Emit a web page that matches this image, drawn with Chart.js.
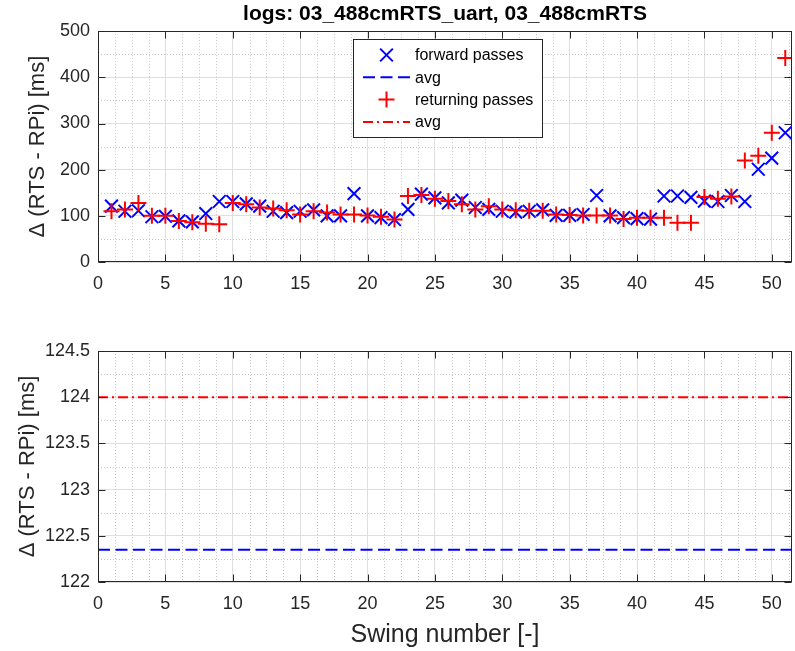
<!DOCTYPE html>
<html><head><meta charset="utf-8">
<script src="https://cdn.jsdelivr.net/npm/chart.js@4.4.1/dist/chart.umd.min.js"></script>
<style>
html,body{margin:0;padding:0;background:#fff;}
#wrap{position:relative;width:795px;height:651px;background:#fff;overflow:hidden;}
canvas{position:absolute;left:0;}
#c1{top:0;} #c2{top:300px;}
</style></head><body>
<div id="wrap"><canvas id="c1" width="795" height="300"></canvas><canvas id="c2" width="795" height="351"></canvas></div>
<script>
const titleText = 'logs: 03_488cmRTS_uart, 03_488cmRTS';
const yLabel = 'Δ (RTS - RPi) [ms]';
const xLabel = 'Swing number [-]';
const legendLabels = ['forward passes', 'avg', 'returning passes', 'avg'];

const swings = [1,2,3,4,5,6,7,8,9,10,11,12,13,14,15,16,17,18,19,20,21,22,23,24,25,26,27,28,29,30,31,32,33,34,35,36,37,38,39,40,41,42,43,44,45,46,47,48,49,50,51];
const forwardPasses = [121,110,111,98,99,89,87,105,131,131,126,121,110,107,110,113,100,100,148,100,96,92,114,147,139,128,134,118,114,110,108,110,113,101,101,103,144,100,96,94,93,143,143,140,132,131,144,131,201,225,280];
const returningPasses = [110,114,128,100,100,89,86,83,82,128,125,118,116,112,103,110,107,103,103,101,98,92,143,145,137,132,125,114,121,114,112,111,111,103,102,101,101,101,93,96,96,96,85,85,141,137,142,220,230,280,442];
const avgForward = 122.35;
const avgReturning = 124.0;

const xLimits = [0, 51.5];
const xTicks = [0,5,10,15,20,25,30,35,40,45,50];
const yLimitsTop = [0, 500];
const yTicksTop = [0,100,200,300,400,500];
const yLimitsBottom = [122, 124.5];
const yTicksBottom = [122,122.5,123,123.5,124,124.5];

const AX = '#262626';
const FONT = "'Liberation Sans', Arial, Helvetica, sans-serif";
const BLUE = '#0000ff', RED = '#ff0000';
const DASH_AVG_F = [12, 5.5];
const DASH_AVG_R = [10, 4, 2, 4];

const matlabAxes = {
  id: 'matlabAxes',
  beforeDatasetsDraw(chart, args, opts) {
    const {ctx, chartArea: a, scales: {x, y}} = chart;
    ctx.save();
    ctx.strokeStyle = '#c6c6c6'; ctx.lineWidth = 1; ctx.setLineDash([1, 2]);
    ctx.beginPath();
    for (let v = x.min; v <= x.max + 1e-9; v += opts.xMinor) {
      if (Math.abs(v / opts.xMajor - Math.round(v / opts.xMajor)) < 1e-6) continue;
      const p = Math.round(x.getPixelForValue(v)) + 0.5;
      ctx.moveTo(p, a.top); ctx.lineTo(p, a.bottom);
    }
    for (let v = y.min; v <= y.max + 1e-9; v += opts.yMinor) {
      if (Math.abs(v / opts.yMajor - Math.round(v / opts.yMajor)) < 1e-6) continue;
      const p = Math.round(y.getPixelForValue(v)) + 0.5;
      ctx.moveTo(a.left, p); ctx.lineTo(a.right, p);
    }
    ctx.stroke();
    ctx.restore();
  },
  afterDatasetsDraw(chart, args, opts) {
    const {ctx, chartArea: a, scales: {x, y}} = chart;
    ctx.save();
    ctx.strokeStyle = AX; ctx.lineWidth = 1; ctx.setLineDash([]);
    const L = Math.round(a.left) + 0.5, R = Math.round(a.right) - 0.5;
    const T = Math.round(a.top) + 0.5, B = Math.round(a.bottom) - 0.5;
    ctx.strokeRect(L, T, R - L, B - T);
    const tl = 7;
    ctx.beginPath();
    x.ticks.forEach(t => {
      const p = Math.round(x.getPixelForValue(t.value)) + 0.5;
      ctx.moveTo(p, B); ctx.lineTo(p, B - tl);
      ctx.moveTo(p, T); ctx.lineTo(p, T + tl);
    });
    y.ticks.forEach(t => {
      const p = Math.round(y.getPixelForValue(t.value)) + 0.5;
      ctx.moveTo(L, p); ctx.lineTo(L + tl, p);
      ctx.moveTo(R, p); ctx.lineTo(R - tl, p);
    });
    ctx.stroke();
    ctx.restore();
  }
};

const matlabLegend = {
  id: 'matlabLegend',
  afterDatasetsDraw(chart, args, opts) {
    if (!opts || !opts.display) return;
    const ctx = chart.ctx;
    const [bx, by, bw, bh] = opts.box;
    ctx.save();
    ctx.fillStyle = '#ffffff'; ctx.fillRect(bx, by, bw, bh);
    ctx.strokeStyle = AX; ctx.lineWidth = 1; ctx.setLineDash([]);
    ctx.strokeRect(bx + 0.5, by + 0.5, bw, bh);
    chart.data.datasets.forEach((ds, i) => {
      const cy = by + opts.rowTop + i * opts.rowGap;
      ctx.save();
      ctx.strokeStyle = ds.borderColor; ctx.fillStyle = ds.borderColor;
      if (ds.type === 'line') {
        ctx.lineWidth = ds.borderWidth; ctx.setLineDash(ds.borderDash || []);
        ctx.beginPath(); ctx.moveTo(opts.lineX0, cy); ctx.lineTo(opts.lineX1, cy); ctx.stroke();
      } else {
        ctx.lineWidth = ds.pointBorderWidth;
        Chart.helpers.drawPoint(ctx, {pointStyle: ds.pointStyle, radius: ds.pointRadius, borderWidth: ds.pointBorderWidth, rotation: 0}, (opts.lineX0 + opts.lineX1) / 2, cy);
      }
      ctx.restore();
      ctx.fillStyle = '#000'; ctx.font = '16px ' + FONT; ctx.textBaseline = 'middle'; ctx.textAlign = 'left';
      ctx.fillText(ds.label, opts.textX, cy + 1);
    });
    ctx.restore();
  }
};

function yScale(lim, ticks, titlePad) {
  return {
    type: 'linear', min: lim[0], max: lim[1],
    afterBuildTicks: s => { s.ticks = ticks.map(v => ({value: v})); },
    afterFit: s => { s.width = 98; s.paddingTop = 0; s.paddingBottom = 0; },
    grid: {color: '#dfdfdf', lineWidth: 1, drawTicks: false},
    border: {display: false},
    ticks: {color: AX, font: {family: FONT, size: 18}, padding: 8, autoSkip: false, callback: v => String(v)},
    title: {display: true, text: yLabel, color: AX, font: {family: FONT, size: 22}, padding: {top: titlePad, bottom: 0}}
  };
}
function xScale(height, withTitle) {
  return {
    type: 'linear', min: xLimits[0], max: xLimits[1],
    afterBuildTicks: s => { s.ticks = xTicks.map(v => ({value: v})); },
    afterFit: s => { s.height = height; s.paddingLeft = 0; s.paddingRight = 0; },
    grid: {color: '#dfdfdf', lineWidth: 1, drawTicks: false},
    border: {display: false},
    ticks: {color: AX, font: {family: FONT, size: 18}, padding: 11, maxRotation: 0, autoSkip: false, callback: v => String(v)},
    title: {display: withTitle, text: xLabel, color: AX, font: {family: FONT, size: 25}, padding: {top: 0, bottom: 1}}
  };
}

const common = {
  responsive: false, animation: false, devicePixelRatio: 1,
  events: [],
};

new Chart(document.getElementById('c1'), {
  type: 'scatter',
  data: {
    datasets: [
      {label: legendLabels[0], data: swings.map((s, i) => ({x: s, y: forwardPasses[i]})), showLine: false,
       pointStyle: 'crossRot', pointRadius: 9, pointBorderWidth: 2, borderColor: BLUE, backgroundColor: BLUE, order: 2},
      {label: legendLabels[1], type: 'line', data: [], showLine: true, borderColor: BLUE, borderWidth: 2, borderDash: DASH_AVG_F, pointRadius: 0},
      {label: legendLabels[2], data: swings.map((s, i) => ({x: s, y: returningPasses[i]})), showLine: false,
       pointStyle: 'cross', pointRadius: 8, pointBorderWidth: 2, borderColor: RED, backgroundColor: RED, order: 1},
      {label: legendLabels[3], type: 'line', data: [], showLine: true, borderColor: RED, borderWidth: 2, borderDash: DASH_AVG_R, pointRadius: 0}
    ]
  },
  options: Object.assign({}, common, {
    layout: {autoPadding: false, padding: {left: 0, right: 3, top: 0, bottom: 0}},
    scales: {x: xScale(38, false), y: yScale(yLimitsTop, yTicksTop, 25)},
    plugins: {
      legend: {display: false}, tooltip: {enabled: false},
      title: {display: true, fullSize: false, text: titleText, color: '#000', font: {family: FONT, size: 21, weight: 'bold'}, padding: {top: 2, bottom: 4}},
      matlabAxes: {xMinor: 1.25, xMajor: 5, yMinor: 50, yMajor: 100},
      matlabLegend: {display: true, box: [353, 39, 189, 98], rowTop: 16, rowGap: 22.3, lineX0: 363, lineX1: 410, textX: 415}
    }
  }),
  plugins: [matlabAxes, matlabLegend]
});

new Chart(document.getElementById('c2'), {
  type: 'scatter',
  data: {
    datasets: [
      {label: legendLabels[1], type: 'line', data: [{x: xLimits[0], y: avgForward}, {x: xLimits[1], y: avgForward}], showLine: true,
       borderColor: BLUE, borderWidth: 2, borderDash: DASH_AVG_F, pointRadius: 0, fill: false},
      {label: legendLabels[3], type: 'line', data: [{x: xLimits[0], y: avgReturning}, {x: xLimits[1], y: avgReturning}], showLine: true,
       borderColor: RED, borderWidth: 2, borderDash: DASH_AVG_R, pointRadius: 0, fill: false}
    ]
  },
  options: Object.assign({}, common, {
    layout: {autoPadding: false, padding: {left: 0, right: 3, top: 51, bottom: 0}},
    scales: {x: xScale(69, true), y: yScale(yLimitsBottom, yTicksBottom, 15)},
    plugins: {
      legend: {display: false}, tooltip: {enabled: false}, title: {display: false},
      matlabAxes: {xMinor: 1.25, xMajor: 5, yMinor: 0.25, yMajor: 0.5},
      matlabLegend: {display: false}
    }
  }),
  plugins: [matlabAxes, matlabLegend]
});
</script>
</body></html>
